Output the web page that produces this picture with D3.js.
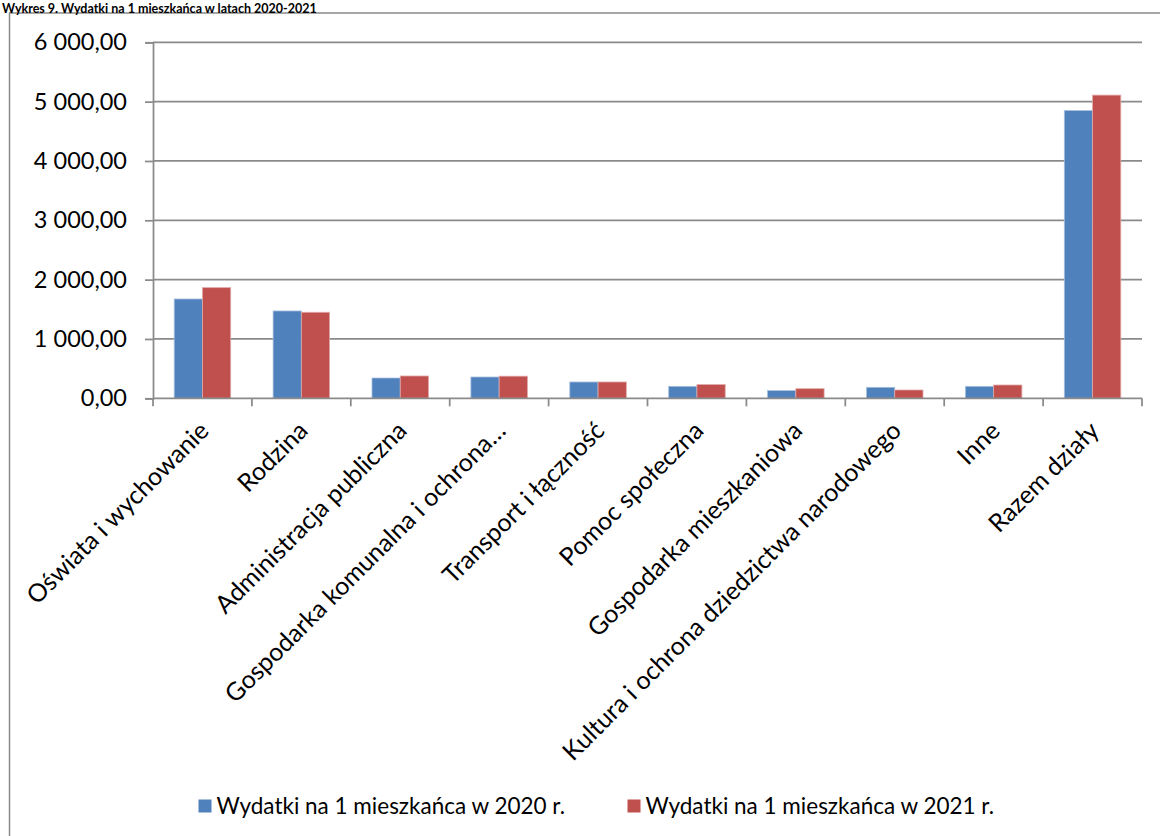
<!DOCTYPE html>
<html>
<head>
<meta charset="utf-8">
<script src="https://cdn.jsdelivr.net/npm/d3@7"></script>
<style>
  html, body { margin: 0; padding: 0; background: #fff; }
  svg { display: block; }
  text { font-family: Lato, "Open Sans", sans-serif; fill: #000; }
</style>
</head>
<body>
<svg id="chart" width="1160" height="836"></svg>
<script>
const title = "Wykres 9. Wydatki na 1 mieszkańca w latach 2020-2021";
const categories = [
  "Oświata i wychowanie",
  "Rodzina",
  "Administracja publiczna",
  "Gospodarka komunalna i ochrona…",
  "Transport i łączność",
  "Pomoc społeczna",
  "Gospodarka mieszkaniowa",
  "Kultura i ochrona dziedzictwa narodowego",
  "Inne",
  "Razem działy"
];
const seriesNames = [
  "Wydatki na 1 mieszkańca w 2020 r.",
  "Wydatki na 1 mieszkańca w 2021 r."
];
const values2020 = [1674, 1472, 342, 359, 275, 202, 130, 185, 202, 4850];
const values2021 = [1865, 1450, 376, 373, 275, 231, 162, 140, 224, 5110];
const yTicks = [0, 1000, 2000, 3000, 4000, 5000, 6000];
const colors = ["#4F81BD", "#C0504D"];

const svg = d3.select("#chart");
const plot = { left: 153, right: 1142, top: 42.3, bottom: 398.3 };
const gray = "#8a8a8a";

// outer frame (left and top edges visible)
svg.append("path")
  .attr("d", `M9.5,900 L9.5,13 L1200,13`)
  .attr("fill", "none").attr("stroke", gray).attr("stroke-width", 1.5);

// title
svg.append("text")
  .attr("x", 2).attr("y", 12.5)
  .attr("text-anchor", "start")
  .style("font-weight", "bold")
  .style("font-size", "12.5px")
  .text(title);

const x0 = d3.scaleBand().domain(categories).range([plot.left, plot.right]).paddingInner(0).paddingOuter(0);
const x1 = d3.scaleBand().domain(seriesNames).range([0, x0.bandwidth()]).paddingInner(0).paddingOuter(0.75);
const y = d3.scaleLinear().domain([0, 6000]).range([plot.bottom, plot.top]);

// gridlines
svg.append("g").selectAll("line").data(yTicks.filter(d => d > 0)).join("line")
  .attr("x1", plot.left).attr("x2", plot.right)
  .attr("y1", d => y(d)).attr("y2", d => y(d))
  .attr("stroke", gray).attr("stroke-width", 1.75);

// bars
const rows = categories.map((c, i) => ({ c, v: [values2020[i], values2021[i]] }));
const g = svg.append("g");
rows.forEach(r => {
  r.v.forEach((v, si) => {
    g.append("rect")
      .attr("x", x0(r.c) + x1(seriesNames[si]))
      .attr("y", y(v))
      .attr("width", x1.bandwidth())
      .attr("height", y(0) - y(v))
      .attr("fill", colors[si])
      .attr("stroke", si === 0 ? "#a9c0de" : "#e0a9a8")
      .attr("stroke-width", 0.8);
  });
});

// y axis
const yAxis = d3.axisLeft(y).tickValues(yTicks).tickSize(8).tickPadding(18)
  .tickFormat(d => d3.format(",.2f")(d).replace(/,/g, " ").replace(".", ","));
const ya = svg.append("g").attr("transform", `translate(${plot.left},0)`).call(yAxis);
ya.select(".domain").attr("stroke", gray).attr("stroke-width", 1.75);
ya.selectAll(".tick line").attr("stroke", gray).attr("stroke-width", 1.75);
ya.selectAll(".tick text").style("font-size", "23.5px").attr("font-family", null);

// x axis
const xa = svg.append("g").attr("transform", `translate(0,${plot.bottom})`);
xa.append("line").attr("x1", plot.left).attr("x2", plot.right).attr("y1", 0).attr("y2", 0)
  .attr("stroke", gray).attr("stroke-width", 1.75);
const bounds = categories.map(c => x0(c)).concat([plot.right]);
xa.selectAll("line.tk").data(bounds).join("line").attr("class", "tk")
  .attr("x1", d => d).attr("x2", d => d).attr("y1", 0).attr("y2", 8)
  .attr("stroke", gray).attr("stroke-width", 1.75);
xa.selectAll("text.lbl").data(categories).join("text").attr("class", "lbl")
  .attr("transform", d => `translate(${x0(d) + x0.bandwidth() / 2 + 8},${34}) rotate(-45)`)
  .attr("text-anchor", "end")
  .style("font-size", "25px")
  .text(d => d);

// legend
const legend = svg.append("g");
const legX = [198.5, 627.5];
seriesNames.forEach((s, i) => {
  legend.append("rect").attr("x", legX[i]).attr("y", 799.5).attr("width", 13).attr("height", 13)
    .attr("fill", colors[i]);
  legend.append("text").attr("x", legX[i] + 18).attr("y", 814)
    .style("font-size", "22.5px").text(s);
});
</script>
</body>
</html>
